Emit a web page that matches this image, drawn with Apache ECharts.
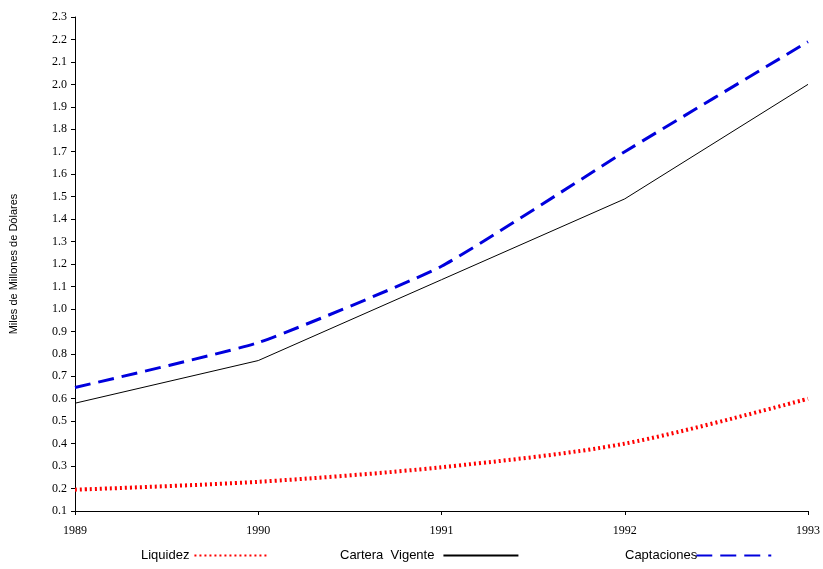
<!DOCTYPE html>
<html>
<head>
<meta charset="utf-8">
<script src="https://cdn.jsdelivr.net/npm/echarts@6/dist/echarts.min.js"></script>
<style>html,body{margin:0;padding:0;background:#fff}#chart{width:823px;height:569px}</style>
</head>
<body>
<div id="chart"></div>
<script>
const years = ['1989', '1990', '1991', '1992', '1993'];
const liquidez = [0.195, 0.23, 0.295, 0.40, 0.60];
const cartera = [0.58, 0.77, 1.13, 1.49, 2.0];
const captaciones = [0.65, 0.85, 1.19, 1.70, 2.19];

let chart = echarts.init(document.getElementById('chart'));
const serif = 'Liberation Serif';
function legend(name, left, pad){
    return {
        data: [name], left: left, bottom: 2, align: 'right',
        itemWidth: 75, itemHeight: 10, itemGap: 0,
        itemStyle: {color: 'transparent', borderWidth: 0},
        textStyle: {fontFamily: 'Liberation Sans', fontSize: 13, color: '#000', padding: [0, pad, 0, 0]}
    };
}
chart.setOption({
    animation: false,
    backgroundColor: '#fff',
    grid: {left: 75, right: 13, top: 17, bottom: 58},
    legend: [legend('Liquidez', 136, 0), legend('Cartera  Vigente', 335, 4), legend('Captaciones', 620, -6)],
    xAxis: {
        type: 'category', data: years, boundaryGap: false,
        axisLine: {lineStyle: {color: '#000'}},
        axisTick: {show: true, length: 4, lineStyle: {color: '#000'}},
        axisLabel: {color: '#000', fontFamily: serif, fontSize: 12, margin: 14}
    },
    yAxis: {
        type: 'value', min: 0.1, max: 2.3, interval: 0.1,
        name: 'Miles de Millones de Dólares', nameLocation: 'middle', nameGap: 56,
        nameTextStyle: {fontFamily: 'Liberation Sans', fontSize: 11, color: '#000'},
        splitLine: {show: false},
        axisLine: {show: true, lineStyle: {color: '#000'}},
        axisTick: {show: true, length: 4, lineStyle: {color: '#000'}},
        axisLabel: {color: '#000', fontFamily: serif, fontSize: 12, formatter: v => v.toFixed(1)}
    },
    series: [{
        name: 'Liquidez', type: 'line', data: liquidez, smooth: 0.3, symbol: 'none',
        itemStyle: {color: '#ff0000'},
        lineStyle: {color: '#ff0000', width: 4, type: [2, 3]}
    }, {
        name: 'Cartera  Vigente', type: 'line', data: cartera, symbol: 'none',
        itemStyle: {color: '#000'},
        lineStyle: {color: '#000', width: 1}
    }, {
        name: 'Captaciones', type: 'line', data: captaciones, smooth: 0.15, symbol: 'none',
        itemStyle: {color: '#0000dd'},
        lineStyle: {color: '#0000dd', width: 3, type: [16, 8]}
    }]
});
</script>
</body>
</html>
